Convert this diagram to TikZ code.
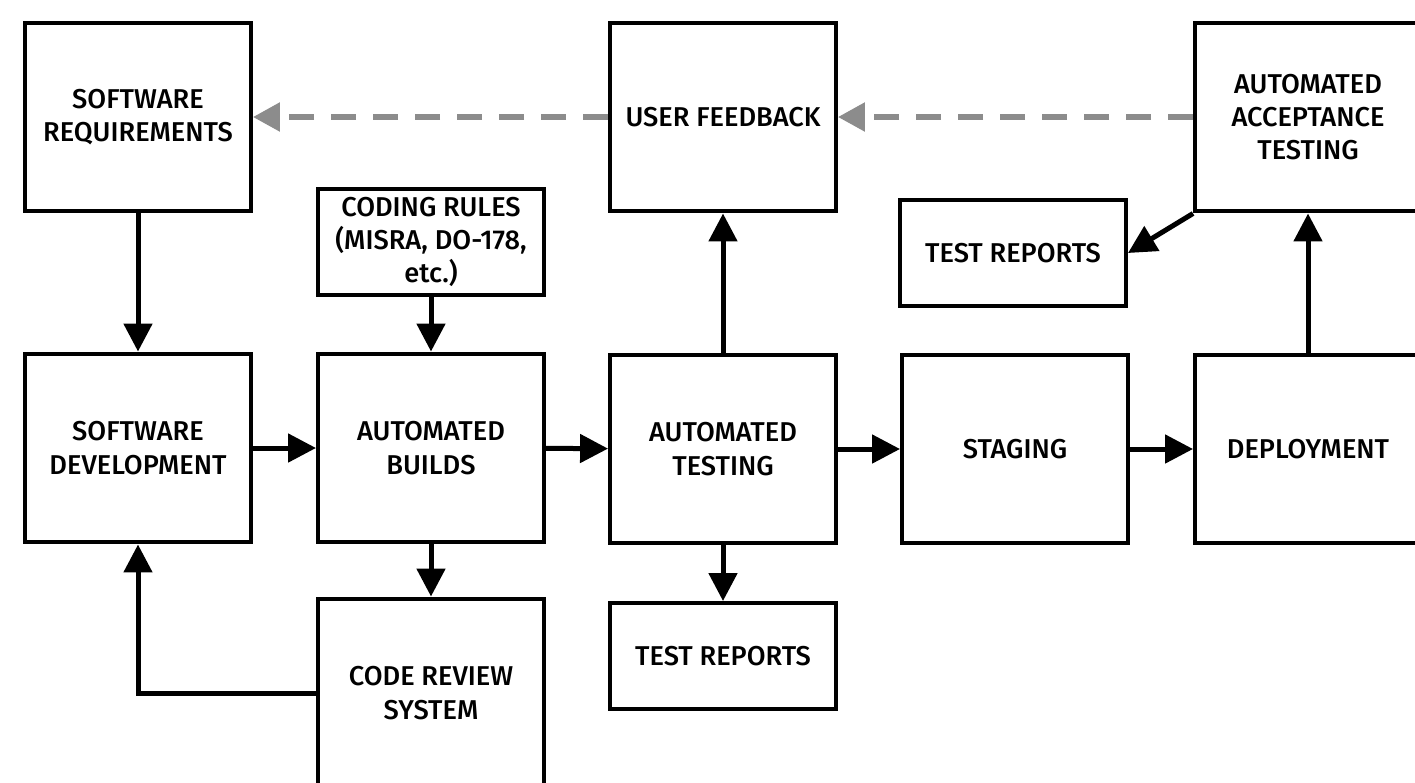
\documentclass[tikz,border=0pt]{standalone}
\usepackage{fontspec}
\setmainfont{Fira Sans}[BoldFont={Fira Sans Medium}]
\usetikzlibrary{arrows.meta}
\def\bw{4.52cm}
\def\bh{3.78cm}
\def\sh{2.12cm}

\begin{document}
\begin{tikzpicture}[x=0.02cm,y=-0.02cm,
    box/.style={draw,line width=0.08cm,minimum width=\bw,minimum height=\bh,
      align=center,inner sep=0pt,font=\bfseries\fontsize{15.5}{19}\selectfont},
    smallbox/.style={box,minimum height=\sh},
    flow/.style={-{Triangle[length=0.56cm,width=0.56cm]},line width=0.1cm},
    back/.style={-{Triangle[length=0.54cm,width=0.56cm]},line width=0.11cm,
      black!45,dash pattern=on 0.5cm off 0.34cm}]
        \useasboundingbox (0,0) rectangle (1415,782);
        %
        \node[box] (req) at (138,117) {SOFTWARE\\REQUIREMENTS};
        \node[box] (feedback) at (723,117) {USER FEEDBACK};
        \node[box] (accept) at (1308,117) {AUTOMATED\\ACCEPTANCE\\TESTING};
        \node[smallbox] (rules) at (431,242) {CODING RULES\\(MISRA, DO-178,\\etc.)};
        \node[smallbox] (rep1) at (1013,253) {TEST REPORTS};
        %
        \node[box] (dev) at (138,448) {SOFTWARE\\DEVELOPMENT};
        \node[box] (builds) at (431,448) {AUTOMATED\\BUILDS};
        \node[box] (testing) at (723,449) {AUTOMATED\\TESTING};
        \node[box] (staging) at (1015,449) {STAGING};
        \node[box] (deploy) at (1308,449) {DEPLOYMENT};
        %
        \node[box] (review) at (431,693) {CODE REVIEW\\SYSTEM};
        \node[smallbox] (rep2) at (723,656) {TEST REPORTS};
        %
        \draw[flow] (req) -- (dev);
        \draw[flow] (rules) -- (builds);
        \draw[flow] (dev) -- (builds);
        \draw[flow] (builds) -- (testing);
        \draw[flow] (testing) -- (staging);
        \draw[flow] (staging) -- (deploy);
        \draw[flow] (builds) -- (review);
        \draw[flow] (testing) -- (rep2);
        \draw[flow] (testing) -- (feedback);
        \draw[flow] (deploy) -- (accept);
        \draw[flow] (accept.south west) -- (rep1.east);
        \draw[flow] (review.west) -| (dev.south); % review back to development
        %
        \draw[back] (accept) -- (feedback);
        \draw[back] (feedback) -- (req);
\end{tikzpicture}
\end{document}
